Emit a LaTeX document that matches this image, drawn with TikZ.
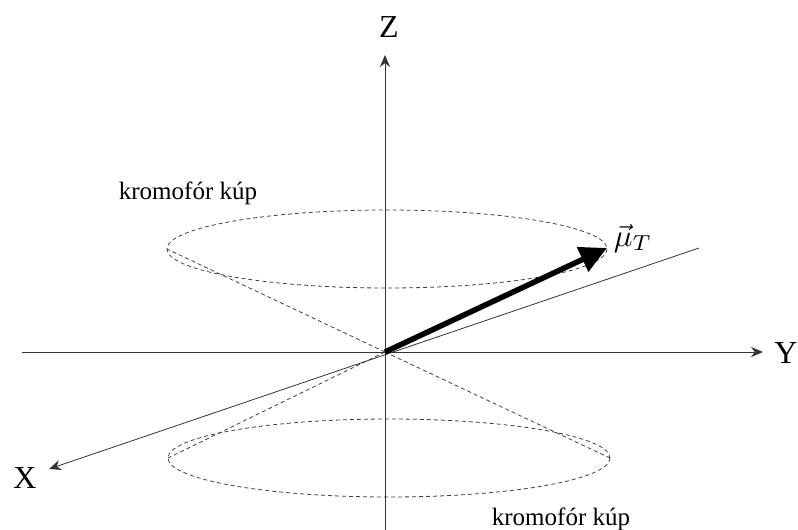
\documentclass[tikz,border=0pt]{standalone}
\usepackage{fontspec}
\setmainfont{Liberation Serif}
\usetikzlibrary{arrows.meta}
\begin{document}
\begin{tikzpicture}[x=1pt,y=-1pt,
  axis/.style={line width=0.8pt,black!80},
  axtip/.style={-{Stealth[length=12pt,width=10pt]}},
  conedash/.style={line width=0.8pt,black!75,dash pattern=on 4pt off 3pt},
  axlabel/.style={inner sep=0pt,font=\fontsize{32}{34}\selectfont},
  conelabel/.style={inner sep=0pt,font=\fontsize{25}{28}\selectfont}]
\useasboundingbox (0,0) rectangle (798,530);
\coordinate (O) at (385,352);
\coordinate (zt) at (385,55);
\coordinate (zb) at (385,530);
\coordinate (yl) at (22,352);
\coordinate (yt) at (763,352);
\coordinate (xu) at (699,248);
\coordinate (xt) at (49,469);
\coordinate (uL) at (167,249);
\coordinate (uR) at (607,249);
\coordinate (lL) at (168,458);
\coordinate (lR) at (610,458);
\coordinate (mu) at (607,248);
% ellipses
\draw[conedash] (387,249) ellipse [x radius=220, y radius=39];
\draw[conedash] (389,458) ellipse [x radius=221, y radius=39];
% cone lines
\draw[conedash] (O) -- (uL);
\draw[conedash] (O) -- (uR);
\draw[conedash] (O) -- (lL);
\draw[conedash] (O) -- (lR);
% axes
\draw[axis,axtip] (zb) -- (zt);
\draw[axis,axtip] (yl) -- (yt);
\draw[axis,axtip] (xu) -- (xt);
% dipole vector
\draw[line width=5.5pt,-{Triangle[length=27pt,width=26pt]}] (O) -- (mu);
% labels
\node[axlabel] (Z) at (389,27) {Z};
\node[axlabel] (Y) at (786,353) {Y};
\node[axlabel] (X) at (25,478) {X};
\node[inner sep=0pt] (muT) at (633,238) {\scalebox{3.1}{$\vec{\mu}_T$}};
\node[conelabel] (k1) at (188,193) {kromofór kúp};
\node[conelabel] (k2) at (561,519) {kromofór kúp};
\end{tikzpicture}
\end{document}
